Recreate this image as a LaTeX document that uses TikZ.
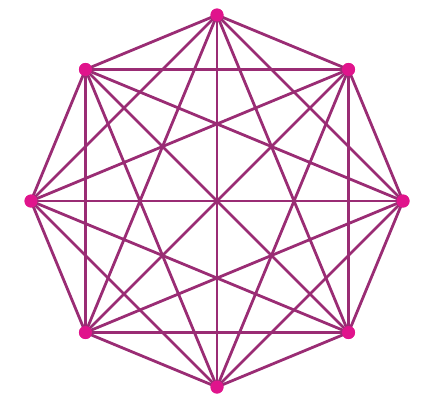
\documentclass[tikz,border=0pt]{standalone}
\usetikzlibrary{calc}
\definecolor{edgec}{HTML}{9A2C74}
\definecolor{nodec}{HTML}{E0148C}
\begin{document}
\begin{tikzpicture}[x=1pt,y=-1pt,
  vert/.style={circle,fill=nodec,inner sep=0pt,minimum size=13pt},
  edge/.style={draw=edgec,line width=2.8pt}]
\useasboundingbox (0,0) rectangle (431,405);
\foreach \i in {0,...,7} {
  \node[vert] (v\i) at ($(217,201)+({90-45*\i}:186 and -186)$) {};
}
\begin{scope}[on background layer/.try]
\end{scope}
\foreach \i in {0,...,7} {
  \pgfmathtruncatemacro{\s}{\i+1}
  \ifnum\s<8
  \foreach \j in {\s,...,7} {
    \draw[edge] (v\i.center) -- (v\j.center);
  }
  \fi
}
\foreach \i in {0,...,7} {
  \fill[nodec] (v\i) circle[radius=6.5pt];
}
\end{tikzpicture}
\end{document}
